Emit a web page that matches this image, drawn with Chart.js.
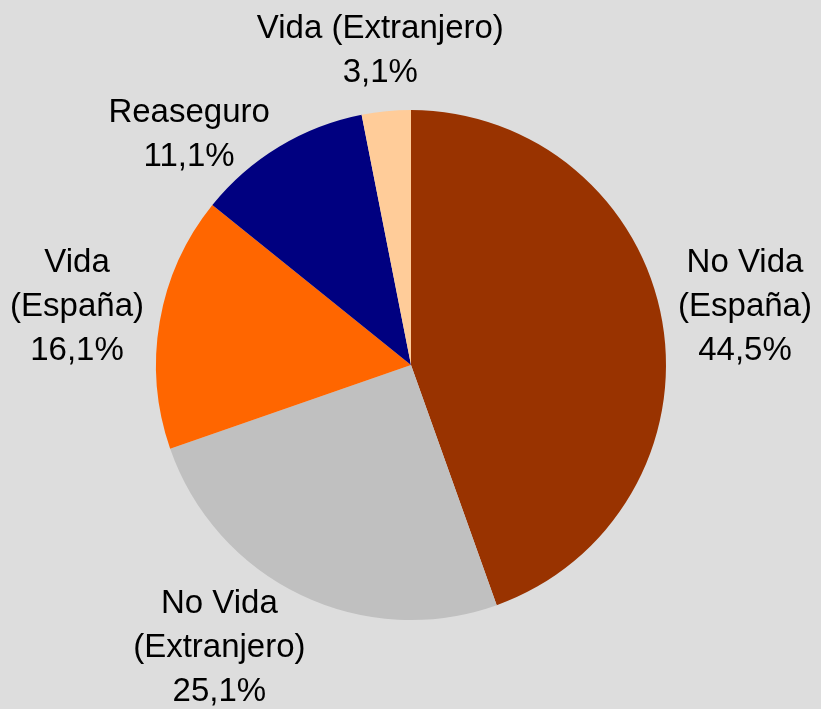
<!DOCTYPE html>
<html>
<head>
<meta charset="utf-8">
<script src="https://cdn.jsdelivr.net/npm/chart.js@4.4.1/dist/chart.umd.min.js"></script>
<style>
  html, body { margin: 0; padding: 0; background: #dddddd; }
  #wrap { width: 821px; height: 709px; }
</style>
</head>
<body>
<div id="wrap"><canvas id="grafico" width="821" height="709"></canvas></div>
<script>
// datos del gráfico (primas por área)
const categorias = [['No Vida', '(España)'], ['No Vida', '(Extranjero)'], ['Vida', '(España)'], ['Reaseguro'], ['Vida (Extranjero)']];
const porcentajes = [44.5, 25.1, 16.1, 11.1, 3.1];
const colores = ['#993300', '#c0c0c0', '#ff6600', '#000080', '#ffcc99'];

// etiquetas fuera de la tarta: si se pisan se bajan/suben, si se salen se recortan
// y luego se apartan en horizontal hasta no tocar la tarta
const etiquetas = {
  id: 'etiquetas',
  afterDatasetsDraw(chart) {
    const ctx = chart.ctx;
    const meta = chart.getDatasetMeta(0);
    const H = chart.height;
    const lh = 44, sep = 16, pad = 2, holgura = 5, margen = 8, media = 12;
    ctx.save();
    ctx.font = '33px "Liberation Sans", Arial, sans-serif';
    ctx.fillStyle = '#000';
    ctx.textAlign = 'center';
    ctx.textBaseline = 'middle';
    const puestas = [];
    for (let i = meta.data.length - 1; i >= 0; i--) {
      const p = meta.data[i].getProps(['x', 'y', 'startAngle', 'endAngle', 'outerRadius'], true);
      const lineas = categorias[i].concat([porcentajes[i].toFixed(1).replace('.', ',') + '%']);
      const n = lineas.length;
      const anchos = lineas.map(l => ctx.measureText(l).width);
      const hw = Math.max(...anchos) / 2;
      const hh = n * lh / 2;
      const a = (p.startAngle + p.endAngle) / 2;
      const dx = Math.cos(a), dy = Math.sin(a);
      const t = Math.min(Math.abs(dx) > 1e-6 ? hw / Math.abs(dx) : Infinity,
                         Math.abs(dy) > 1e-6 ? hh / Math.abs(dy) : Infinity);
      let cx = p.x + dx * (p.outerRadius + sep + t);
      let cy = p.y + dy * (p.outerRadius + sep + t);

      puestas.forEach(o => {
        if (cx - hw < o.x1 && cx + hw > o.x0 && cy - hh + pad < o.y1 - pad && cy + hh - pad > o.y0 + pad) {
          cy = cy > o.cy ? o.y1 - 2 * pad + hh : o.y0 + 2 * pad - hh;
        }
      });
      cy = Math.max(Math.min(cy, H + holgura - hh), hh - holgura);

      const pisa = () => lineas.some((l, j) => {
        const ly = cy + (j - (n - 1) / 2) * lh;
        const qx = Math.min(Math.max(p.x, cx - anchos[j] / 2), cx + anchos[j] / 2) - p.x;
        const qy = Math.min(Math.max(p.y, ly - media), ly + media) - p.y;
        return Math.hypot(qx, qy) < p.outerRadius + margen;
      });
      const sx = dx < 0 ? -1 : 1;
      for (let k = 0; k < 300 && pisa(); k++) cx += sx;

      puestas.push({ cx, cy, x0: cx - hw, x1: cx + hw, y0: cy - hh, y1: cy + hh });
      lineas.forEach((l, j) => ctx.fillText(l, cx, cy + (j - (n - 1) / 2) * lh));
    }
    ctx.restore();
  }
};

new Chart(document.getElementById('grafico'), {
  type: 'pie',
  data: {
    labels: categorias.map(c => c.join(' ')),
    datasets: [{
      data: porcentajes,
      backgroundColor: colores,
      borderWidth: 0,
      hoverOffset: 0,
      offset: 0
    }]
  },
  options: {
    responsive: false,
    animation: false,
    layout: { padding: { left: 156, right: 155, top: 110, bottom: 89 } },
    plugins: {
      legend: { display: false },
      tooltip: { enabled: false }
    }
  },
  plugins: [etiquetas]
});
</script>
</body>
</html>
